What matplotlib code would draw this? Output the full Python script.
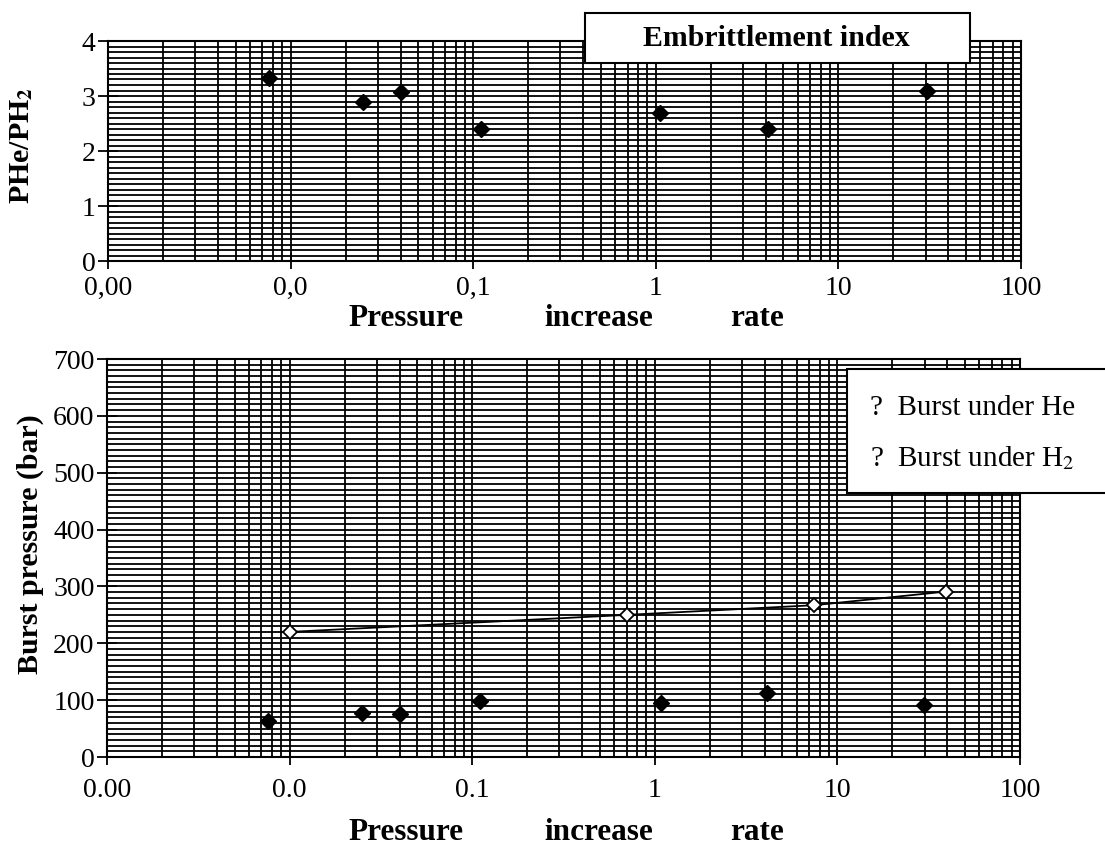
import matplotlib
matplotlib.use('Agg')
import matplotlib.pyplot as plt
from matplotlib.ticker import FixedLocator, FixedFormatter, LogLocator, MultipleLocator, NullFormatter
from matplotlib.patches import Rectangle

plt.rcParams['font.family'] = ['Liberation Serif', 'DejaVu Serif']
plt.rcParams['mathtext.fontset'] = 'stix'

# embrittlement index (PHe/PH2) vs pressure increase rate
idx_rate = [0.0076, 0.025, 0.040, 0.111, 1.06, 4.13, 30.6]
idx_val = [3.33, 2.90, 3.07, 2.40, 2.69, 2.40, 3.10]

# burst pressures
h2_rate = [0.0076, 0.025, 0.040, 0.111, 1.08, 4.14, 29.9]
h2_burst = [63, 78, 75, 99, 95, 112, 91]
he_rate = [0.010, 0.706, 7.48, 39.4]
he_burst = [220, 250, 267, 291]

decades = [0.001, 0.01, 0.1, 1, 10, 100]
top_xlabels = ['0,00', '0,0', '0,1', '1', '10', '100']
bot_xlabels = ['0.00', '0.0', '0.1', '1', '10', '100']

W, H = 1105, 847
fig = plt.figure(figsize=(W / 100, H / 100), dpi=100)


def px_axes(l, t, r, b):
    return fig.add_axes([l / W, 1 - b / H, (r - l) / W, (b - t) / H])


def fig_text(x, y, s, **kw):
    return fig.text(x / W, 1 - y / H, s, **kw)


def style_axes(ax, xlabels, ystep, xpad):
    ax.set_xscale('log')
    ax.set_xlim(0.001, 100)
    ax.xaxis.set_major_locator(FixedLocator(decades))
    ax.xaxis.set_major_formatter(FixedFormatter(xlabels))
    ax.xaxis.set_minor_locator(LogLocator(base=10, subs=range(2, 10)))
    ax.xaxis.set_minor_formatter(NullFormatter())
    ax.yaxis.set_minor_locator(MultipleLocator(ystep))
    ax.grid(True, which='both', color='black', lw=1.3)
    ax.set_axisbelow(True)
    ax.tick_params(which='minor', length=0)
    ax.tick_params(axis='y', which='major', direction='inout', length=14, width=1.3, labelsize=20, pad=2)
    ax.tick_params(axis='x', which='major', direction='inout', length=12, width=1.3, labelsize=20, pad=xpad)
    for sp in ax.spines.values():
        sp.set_linewidth(1.5)


# ---- top panel
ax1 = px_axes(108, 41, 1021, 261)
style_axes(ax1, top_xlabels, 0.1, 5)
ax1.set_ylim(0, 4)
ax1.set_yticks([0, 1, 2, 3, 4])
ax1.plot(idx_rate, idx_val, 'D', color='black', ms=8, zorder=5, clip_on=False)
fig_text(22, 146, r'PHe/PH$_\mathbf{2}$', rotation=90, ha='center', va='center',
         fontsize=21.5, fontweight='bold')

fig.patches.append(Rectangle((585 / W, 1 - 63 / H), 385 / W, 50 / H, transform=fig.transFigure,
                             facecolor='white', edgecolor='black', lw=1.5, zorder=10))
fig_text(776, 39, 'Embrittlement index', ha='center', va='center',
         fontsize=21.5, fontweight='bold', zorder=11)

# ---- bottom panel
ax2 = px_axes(107, 359, 1020, 757)
style_axes(ax2, bot_xlabels, 10, 9)
ax2.set_ylim(0, 700)
ax2.set_yticks(range(0, 701, 100))
ax2.plot(he_rate, he_burst, '-', color='black', lw=1.3, zorder=4)
ax2.plot(he_rate, he_burst, 'D', mfc='white', mec='black', mew=1.3, ms=7, zorder=5)
ax2.plot(h2_rate, h2_burst, 'D', color='black', ms=8, zorder=5)
fig_text(30, 544, 'Burst pressure (bar)', rotation=90, ha='center', va='center',
         fontsize=21.5, fontweight='bold')

fig.patches.append(Rectangle((847 / W, 1 - 493 / H), 270 / W, 124 / H, transform=fig.transFigure,
                             facecolor='white', edgecolor='black', lw=1.5, zorder=10))
fig_text(870, 408, '?  Burst under He', ha='left', va='center', fontsize=21, zorder=11)
fig_text(870, 458, r'?  Burst under H$_2$', ha='left', va='center', fontsize=21, zorder=11)

# x axis titles, words spread out as in the original
for ypx in (319, 832):
    for word, xpx in (('Pressure', 406), ('increase', 599), ('rate', 757)):
        fig_text(xpx, ypx, word, ha='center', va='center', fontsize=22.5, fontweight='bold')

fig.savefig('out.png', dpi=100)
